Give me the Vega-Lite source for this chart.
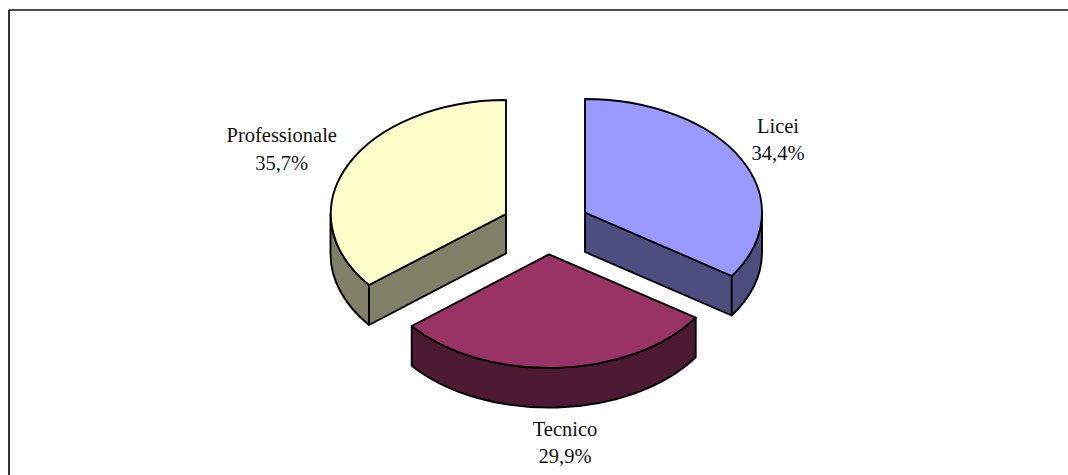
{
  "$schema": "https://vega.github.io/schema/vega-lite/v6.json",
  "width": 1059,
  "height": 465,
  "padding": {"left": 9, "top": 10, "right": 0, "bottom": 0},
  "autosize": {"type": "none"},
  "background": "white",
  "config": {"view": {"stroke": null}},
  "data": {"values": [
    {"name": "Licei", "share": 34.4, "label": "Licei\n34,4%"},
    {"name": "Tecnico", "share": 29.9, "label": "Tecnico\n29,9%"},
    {"name": "Professionale", "share": 35.7, "label": "Professionale\n35,7%"}
  ]},
  "resolve": {"scale": {"shape": "independent", "fill": "independent"}},
  "layer": [
    {
      "data": {"values": [{"edge": "left"}]},
      "mark": {"type": "rule", "color": "#111111", "strokeWidth": 1.7},
      "encoding": {"x": {"value": 0}}
    },
    {
      "data": {"values": [{"edge": "top"}]},
      "mark": {"type": "rule", "color": "#111111", "strokeWidth": 1.7},
      "encoding": {"y": {"value": 0}}
    },
    {
      "mark": {"type": "point", "filled": true, "opacity": 1, "strokeWidth": 1.9, "strokeJoin": "round"},
      "encoding": {
        "size": {"value": 4},
        "stroke": {"value": "black"},
        "fill": {"field": "name", "type": "nominal", "legend": null,
          "scale": {"domain": ["Licei", "Tecnico", "Professionale"], "range": ["#4d4d80", "#4d1a33", "#808066"]}},
        "shape": {"field": "name", "type": "nominal", "legend": null,
          "scale": {"domain": ["Licei", "Tecnico", "Professionale"], "range": [
            "M46.5,-30 L193.2,33.5 L193.2,73 L46.5,9.5 Z M193.2,33.5 A177,113.5 0 0 0 223.5,-30 L223.5,9.5 A177,113.5 0 0 1 193.2,73 Z",
            "M-126.8,83.5 A177,114 0 0 0 157.2,75.2 L157.2,114.8 A177,114 0 0 1 -126.8,123.2 Z",
            "M-32.5,-28.5 L-169.5,42.5 L-169.5,82.5 L-32.5,10.8 Z M-169.5,42.5 A175.5,114 0 0 1 -208,-28.5 L-208,10.8 A175.5,114 0 0 0 -169.5,82.5 Z"
          ]}}
      }
    },
    {
      "mark": {"type": "point", "filled": true, "opacity": 1, "strokeWidth": 1.9, "strokeJoin": "round"},
      "encoding": {
        "size": {"value": 4},
        "stroke": {"value": "black"},
        "fill": {"field": "name", "type": "nominal", "legend": null,
          "scale": {"domain": ["Licei", "Tecnico", "Professionale"], "range": ["#9999ff", "#993366", "#ffffcc"]}},
        "shape": {"field": "name", "type": "nominal", "legend": null,
          "scale": {"domain": ["Licei", "Tecnico", "Professionale"], "range": [
            "M46.5,-30 L46.5,-143.5 A177,113.5 0 0 1 193.2,33.5 Z",
            "M10.5,11.8 L157.2,75.2 A177,114 0 0 1 -126.8,83.5 Z",
            "M-32.5,-28.5 L-169.5,42.5 A175.5,114 0 0 1 -32.5,-142.5 Z"
          ]}}
      }
    },
    {
      "transform": [{"filter": "datum.name === 'Licei'"}],
      "mark": {"type": "text", "font": "Liberation Serif", "fontSize": 20.5, "lineBreak": "\n", "lineHeight": 27.5, "align": "center", "baseline": "alphabetic", "dx": 239.5, "dy": -109.8, "color": "#111111"},
      "encoding": {"text": {"field": "label", "type": "nominal"}}
    },
    {
      "transform": [{"filter": "datum.name === 'Tecnico'"}],
      "mark": {"type": "text", "font": "Liberation Serif", "fontSize": 20.5, "lineBreak": "\n", "lineHeight": 27.5, "align": "center", "baseline": "alphabetic", "dx": 26.5, "dy": 193.2, "color": "#111111"},
      "encoding": {"text": {"field": "label", "type": "nominal"}}
    },
    {
      "transform": [{"filter": "datum.name === 'Professionale'"}],
      "mark": {"type": "text", "font": "Liberation Serif", "fontSize": 20.5, "lineBreak": "\n", "lineHeight": 27.5, "align": "center", "baseline": "alphabetic", "dx": -256.8, "dy": -100.5, "color": "#111111"},
      "encoding": {"text": {"field": "label", "type": "nominal"}}
    }
  ]
}
